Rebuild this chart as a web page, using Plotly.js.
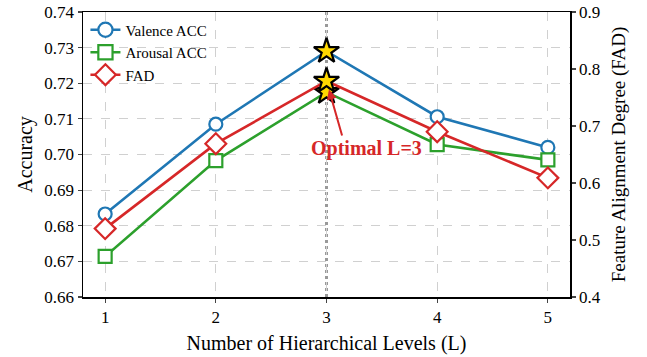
<!DOCTYPE html>
<html>
<head>
<meta charset="utf-8">
<script src="https://cdn.plot.ly/plotly-3.0.1.min.js"></script>
<style>html,body{margin:0;padding:0;background:#fff;}#chart{width:647px;height:357px;}</style>
</head>
<body>
<div id="chart"></div>
<script>
const levels = [1, 2, 3, 4, 5];
const valenceAcc = [0.6833, 0.7085, 0.7290, 0.7106, 0.7020];
const arousalAcc = [0.6714, 0.6983, 0.7175, 0.7028, 0.6985];
const fad = [0.520, 0.669, 0.779, 0.690, 0.609];
const optimalLevel = 3;
const optimalIndex = levels.indexOf(optimalLevel);

const FONT = 'Liberation Serif, Times New Roman, serif';

function markerFor(base, color, size) {
  const sym = levels.map((l, i) => i === optimalIndex ? 'star' : base);
  const fill = levels.map((l, i) => i === optimalIndex ? '#FFD700' : '#ffffff');
  const lc = levels.map((l, i) => i === optimalIndex ? '#000000' : color);
  const sz = levels.map((l, i) => i === optimalIndex ? 19 : size);
  return {symbol: sym, color: fill, size: sz, opacity: 1, line: {color: lc, width: 2.2}};
}

const traces = [
  {x: levels, y: valenceAcc, name: 'Valence ACC', mode: 'lines+markers', yaxis: 'y', opacity: 1,
   line: {color: '#1f77b4', width: 2.6}, marker: markerFor('circle', '#1f77b4', 13)},
  {x: levels, y: arousalAcc, name: 'Arousal ACC', mode: 'lines+markers', yaxis: 'y', opacity: 1,
   line: {color: '#2ca02c', width: 2.6}, marker: markerFor('square', '#2ca02c', 13)},
  {x: levels, y: fad, name: 'FAD', mode: 'lines+markers', yaxis: 'y2', opacity: 1,
   line: {color: '#d62728', width: 2.6}, marker: markerFor('diamond', '#d62728', 16)}
];

const layout = {
  width: 647, height: 357,
  margin: {l: 83, r: 77, t: 12, b: 60},
  paper_bgcolor: 'white', plot_bgcolor: 'white',
  font: {family: FONT, size: 17, color: '#000'},
  showlegend: true,
  legend: {x: 0.005, y: 0.995, xanchor: 'left', yanchor: 'top', bgcolor: 'rgba(0,0,0,0)',
           font: {family: FONT, size: 15}, tracegroupgap: 0, itemwidth: 30},
  xaxis: {range: [0.8, 5.2], tickvals: levels, ticks: 'outside', ticklen: 4, tickwidth: 1.2,
          showline: true, linecolor: '#000', linewidth: 1.5, mirror: true,
          showgrid: true, gridcolor: '#d0d0d0', griddash: 'dash', gridwidth: 1,
          zeroline: false, tickfont: {size: 17},
          title: {text: 'Number of Hierarchical Levels (L)', font: {size: 20}, standoff: 10}},
  yaxis: {range: [0.66, 0.74], dtick: 0.01, tick0: 0.66, tickformat: '.2f', ticks: 'outside', ticklen: 4,
          tickwidth: 1.2, showline: true, linecolor: '#000', linewidth: 1.5,
          showgrid: true, gridcolor: '#d0d0d0', griddash: 'dash', gridwidth: 1, zeroline: false,
          tickfont: {size: 17}, title: {text: 'Accuracy', font: {size: 20}, standoff: 6}},
  yaxis2: {range: [0.4, 0.9], dtick: 0.1, tick0: 0.4, tickformat: '.1f', overlaying: 'y', side: 'right',
           ticks: 'outside', ticklen: 4, tickwidth: 1.2, showline: true, linecolor: '#000', linewidth: 1.5,
           showgrid: false, zeroline: false, tickfont: {size: 17},
           title: {text: 'Feature Alignment Degree (FAD)', font: {size: 19}, standoff: 12}},
  shapes: [
    {type: 'line', xref: 'x', yref: 'paper', x0: optimalLevel, x1: optimalLevel, y0: 0, y1: 1,
     line: {color: '#999999', width: 3, dash: 'dot'}, layer: 'below'}
  ],
  annotations: [
    {xref: 'x', yref: 'y2', x: optimalLevel, y: fad[optimalIndex], text: '',
     showarrow: true, arrowhead: 2, arrowsize: 1, arrowwidth: 2, arrowcolor: '#d62728',
     ax: 16, ay: 56, standoff: 9},
    {xref: 'x', yref: 'y2', x: optimalLevel, y: fad[optimalIndex], text: '<b>Optimal L=3</b>',
     showarrow: false, xshift: 40, yshift: -68,
     font: {family: FONT, size: 20, color: '#d62728'}}
  ]
};

Plotly.newPlot('chart', traces, layout, {displayModeBar: false, staticPlot: true});
</script>
</body>
</html>
